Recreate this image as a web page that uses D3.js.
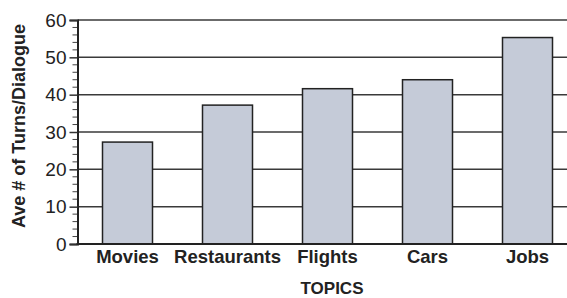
<!DOCTYPE html>
<html>
<head>
<meta charset="utf-8">
<script src="https://cdn.jsdelivr.net/npm/d3@7"></script>
<style>
  body { margin: 0; background: #fff; }
  svg { display: block; font-family: "Liberation Sans", Arial, sans-serif; }
</style>
</head>
<body>
<div id="graph"></div>
<script>
// chart data
const topics = ["Movies", "Restaurants", "Flights", "Cars", "Jobs"];
const turns = [27.3, 37.2, 41.6, 44.0, 55.3];
const yTicks = [0, 10, 20, 30, 40, 50, 60];

const width = 567, height = 298;
const x0 = 77.5, yBottom = 244, yTop = 20;

const svg = d3.select("#graph").append("svg")
    .attr("width", width)
    .attr("height", height);

const x = d3.scaleBand()
    .domain(topics)
    .range([x0, x0 + 500])
    .paddingInner(0.5)
    .paddingOuter(0.25);

const y = d3.scaleLinear()
    .domain([0, 60])
    .range([yBottom, yTop]);

// gridlines
svg.append("g").selectAll("line")
    .data(yTicks.filter(d => d > 0))
    .enter().append("line")
    .attr("x1", x0).attr("x2", width)
    .attr("y1", d => y(d)).attr("y2", d => y(d))
    .attr("stroke", "#3a3a3a")
    .attr("stroke-width", 1.5);

// bars
svg.append("g").selectAll("rect")
    .data(topics)
    .enter().append("rect")
    .attr("x", d => x(d))
    .attr("width", x.bandwidth())
    .attr("y", (d, i) => y(turns[i]))
    .attr("height", (d, i) => yBottom - y(turns[i]))
    .attr("fill", "#c5cbd8")
    .attr("stroke", "#222")
    .attr("stroke-width", 1.5);

// minor ticks
let minor = d3.range(0, 61, 2).filter(d => d % 10 != 0);
svg.append("g").selectAll("line")
    .data(minor)
    .enter().append("line")
    .attr("x1", x0 - 5).attr("x2", x0)
    .attr("y1", d => y(d)).attr("y2", d => y(d))
    .attr("stroke", "#444")
    .attr("stroke-width", 1);

// y axis
const yAxis = svg.append("g")
    .attr("transform", "translate(" + x0 + ",0)")
    .call(d3.axisLeft(y).tickValues(yTicks).tickSize(8).tickPadding(3));
yAxis.select(".domain").attr("stroke", "#222").attr("stroke-width", 2);
yAxis.selectAll(".tick line").attr("stroke", "#333").attr("stroke-width", 1.5);
yAxis.selectAll(".tick text")
    .attr("font-size", "19px")
    .attr("font-family", "Liberation Sans, Arial, sans-serif")
    .attr("fill", "#222");

// x axis baseline
svg.append("line")
    .attr("x1", x0 - 1).attr("x2", width)
    .attr("y1", yBottom).attr("y2", yBottom)
    .attr("stroke", "#222")
    .attr("stroke-width", 2);

// x labels
svg.append("g").selectAll("text")
    .data(topics)
    .enter().append("text")
    .attr("x", d => x(d) + x.bandwidth() / 2)
    .attr("y", 262.5)
    .attr("text-anchor", "middle")
    .attr("font-size", "18.5px")
    .attr("font-weight", "bold")
    .attr("fill", "#222")
    .text(d => d);

// axis titles
svg.append("text")
    .attr("x", 332).attr("y", 294)
    .attr("text-anchor", "middle")
    .attr("font-size", "17px")
    .attr("font-weight", "bold")
    .attr("fill", "#222")
    .text("TOPICS");

svg.append("text")
    .attr("transform", "translate(25,126) rotate(-90)")
    .attr("text-anchor", "middle")
    .attr("font-size", "18px")
    .attr("font-weight", "bold")
    .attr("fill", "#222")
    .text("Ave # of Turns/Dialogue");
</script>
</body>
</html>
